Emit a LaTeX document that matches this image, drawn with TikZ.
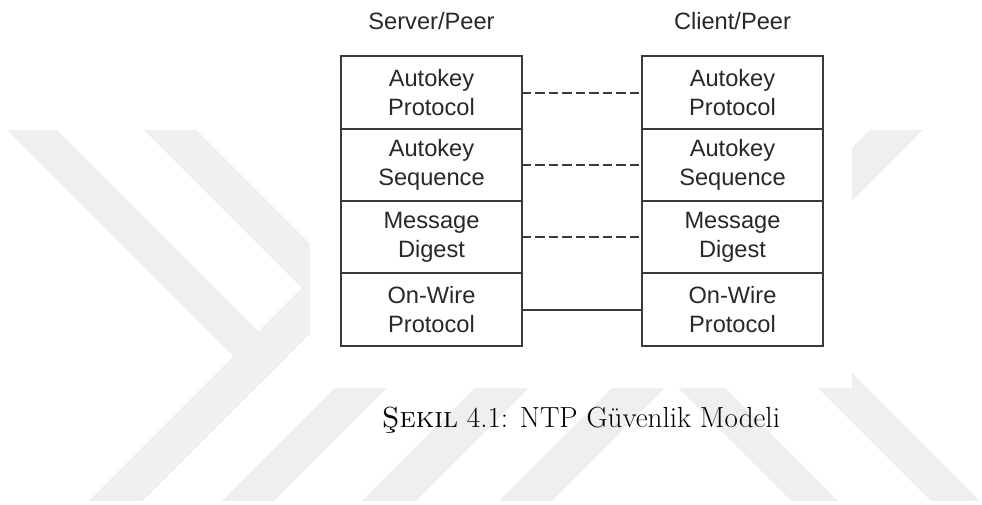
\documentclass[tikz,border=0pt]{standalone}
\usepackage{fontspec}
\newfontfamily\diagfont{Liberation Sans}
\definecolor{mark}{RGB}{239,239,239}
\definecolor{ink}{RGB}{40,40,40}
\definecolor{rule}{RGB}{58,58,58}

\begin{document}
\begin{tikzpicture}[x=0.55pt,y=-0.55pt,
  cell/.style={draw=rule,line width=1.1pt,fill=white,inner sep=0pt,outer sep=0pt,
    minimum width=99.5pt,minimum height=39.77pt,align=center,text=ink,
    font=\diagfont\fontsize{13}{15.6}\selectfont},
  head/.style={text=ink,inner sep=0pt,font=\diagfont\fontsize{13}{15.6}\selectfont},
  link/.style={draw=rule,line width=1.1pt},
  dashlink/.style={link,dash pattern=on 5.2pt off 2.2pt},
  wm/.style={fill=mark,draw=none}]

\useasboundingbox (0,0) rectangle (982,505);
\fill[white] (0,0) rectangle (982,505);

% light watermark stripes
\begin{scope}
  \clip (0,130.5) rectangle (982,500.5);
  % chevron on the left
  \fill[wm] (-3,120) -- (47,120) -- (285.5,358.5) -- (260.5,383.5) -- cycle;
  \fill[wm] (134,120) -- (186,120) -- (355,289) -- (329,315) -- cycle;
  \fill[wm] (80,510) -- (134,510) -- (355,289) -- (302,288) -- cycle;
  % rising stripes
  \fill[wm] (603,120) -- (655,120) -- (265,510) -- (213,510) -- cycle;
  \fill[wm] (743,120) -- (797,120) -- (407,510) -- (353,510) -- cycle;
  \fill[wm] (880,120) -- (933,120) -- (543,510) -- (490,510) -- cycle;
  % falling stripes
  \fill[wm] (590,300) -- (637,300) -- (847,510) -- (800,510) -- cycle;
  \fill[wm] (730,300) -- (779,300) -- (989,510) -- (940,510) -- cycle;
\end{scope}

% white panel holding the figure
\fill[white] (310,0) rectangle (852,388);

% column headings
\node[head,anchor=base] (srv) at (431.5,30) {Server/Peer};
\node[head,anchor=base] (cli) at (732.5,30) {Client/Peer};

% server stack
\node[cell] (s1) at (431.5,92.65) {Autokey\\Protocol};
\node[cell] (s2) at (431.5,164.95) {Autokey\\Sequence};
\node[cell] (s3) at (431.5,237.25) {Message\\Digest};
\node[cell] (s4) at (431.5,309.55) {On-Wire\\Protocol};

% client stack
\node[cell] (c1) at (732.5,92.65) {Autokey\\Protocol};
\node[cell] (c2) at (732.5,164.95) {Autokey\\Sequence};
\node[cell] (c3) at (732.5,237.25) {Message\\Digest};
\node[cell] (c4) at (732.5,309.55) {On-Wire\\Protocol};

% peer links
\draw[dashlink] (s1.east) -- (c1.west);
\draw[dashlink] (s2.east) -- (c2.west);
\draw[dashlink] (s3.east) -- (c3.west);
\draw[link] (s4.east) -- (c4.west);

% caption
\node[anchor=base,inner sep=0pt,font=\fontsize{16}{19}\selectfont] (cap) at (581,428)
  {\textsc{Şekil} 4.1: NTP Güvenlik Modeli};
\end{tikzpicture}
\end{document}
